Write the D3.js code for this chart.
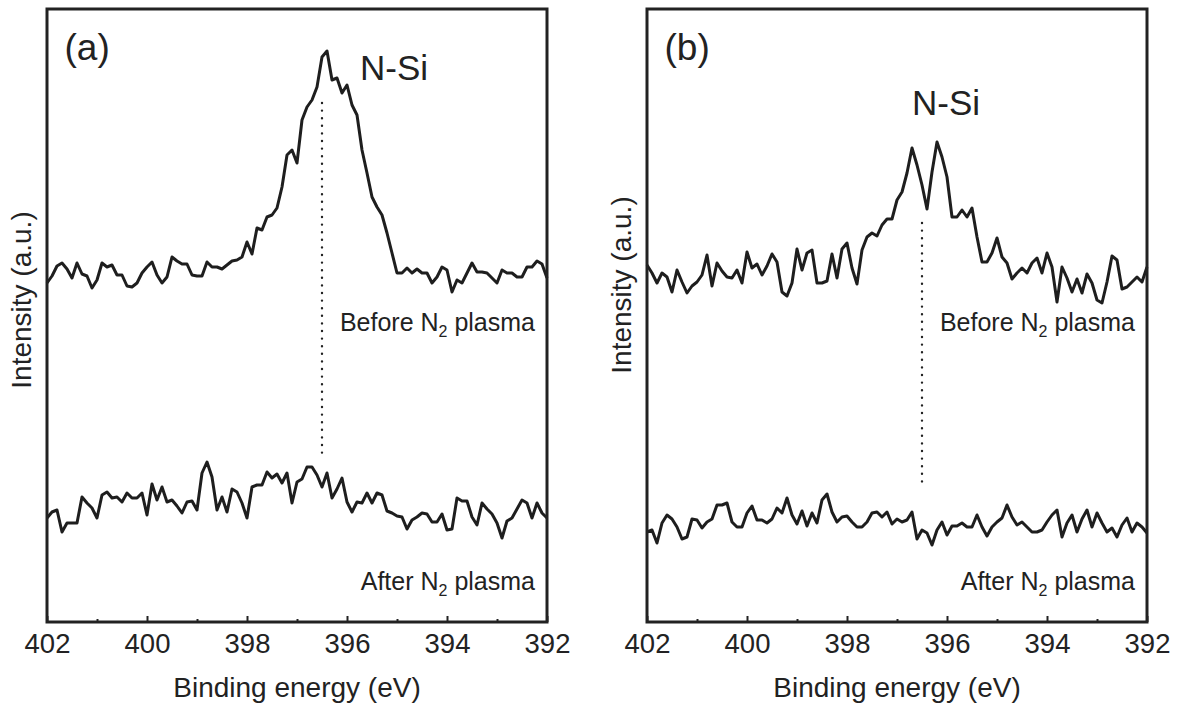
<!DOCTYPE html>
<html>
  <head>
    <meta charset="utf-8" />
    <title>N 1s before / after N2 plasma</title>
    <script src="https://d3js.org/d3.v7.min.js"></script>
    <style>
      body { margin: 0; background: #fff; }
      text { font-family: "Liberation Sans", Arial, sans-serif; fill: #222; }
    </style>
  </head>
  <body>
    <script>
      // binding energy grid (eV), 0.1 eV step from 402 to 392
      let energy = d3.range(0, 101).map((i) => +(402 - i * 0.1).toFixed(1));
      let xTicks = [402, 400, 398, 396, 394, 392];
      let xMinorTicks = [401, 399, 397, 395, 393];

      // intensities (a.u.)
      let aBefore = [
        339, 346, 356, 359, 353, 344, 359, 348, 346, 334,
        342, 359, 355, 357, 347, 347, 336, 335, 339, 349,
        355, 360, 347, 339, 345, 365, 361, 358, 358, 347,
        346, 346, 360, 355, 355, 353, 357, 361, 362, 365,
        380, 368, 394, 392, 405, 407, 414, 435, 467, 472,
        459, 502, 515, 522, 535, 565, 571, 542, 544, 529,
        537, 517, 507, 472, 449, 425, 415, 407, 389, 369,
        349, 349, 354, 349, 353, 349, 349, 339, 345, 355,
        352, 330, 342, 339, 349, 359, 350, 350, 349, 344,
        339, 352, 349, 349, 345, 345, 355, 355, 361, 358,
        344,
      ];
      let aAfter = [
        104, 110, 112, 90, 99, 99, 99, 125, 119, 114,
        104, 127, 130, 124, 125, 120, 129, 124, 124, 129,
        107, 138, 122, 135, 120, 122, 116, 109, 120, 121,
        112, 149, 160, 145, 112, 125, 110, 133, 130, 119,
        104, 135, 137, 137, 150, 144, 148, 139, 149, 119,
        140, 143, 155, 155, 147, 135, 149, 124, 133, 144,
        120, 110, 120, 119, 129, 119, 129, 127, 111, 109,
        106, 105, 93, 102, 105, 109, 108, 100, 100, 108,
        92, 93, 124, 121, 121, 105, 97, 119, 113, 108,
        99, 84, 101, 104, 113, 122, 119, 104, 119, 109,
        104,
      ];
      let bBefore = [
        357, 349, 339, 349, 345, 330, 352, 340, 329, 336,
        340, 347, 367, 336, 359, 351, 345, 344, 352, 339,
        370, 354, 358, 347, 356, 368, 360, 330, 326, 339,
        373, 352, 369, 372, 339, 339, 341, 368, 344, 373,
        379, 354, 338, 372, 385, 389, 386, 397, 403, 403,
        422, 430, 449, 474, 457, 437, 413, 450, 480, 465,
        445, 405, 405, 412, 405, 414, 385, 360, 360, 369,
        384, 365, 359, 343, 349, 354, 349, 359, 364, 349,
        369, 355, 320, 355, 344, 330, 343, 329, 348, 339,
        322, 319, 340, 366, 362, 333, 335, 340, 345, 340,
        355,
      ];
      let bAfter = [
        90, 92, 79, 99, 107, 103, 95, 83, 85, 103,
        102, 94, 100, 103, 117, 117, 119, 100, 95, 95,
        109, 116, 102, 102, 99, 103, 114, 109, 124, 107,
        98, 111, 96, 109, 99, 122, 128, 110, 100, 105,
        106, 100, 95, 95, 100, 109, 110, 105, 110, 98,
        103, 100, 102, 110, 83, 92, 89, 77, 92, 100,
        87, 96, 96, 99, 95, 95, 107, 95, 86, 95,
        100, 104, 117, 105, 97, 100, 95, 90, 90, 92,
        100, 107, 112, 85, 99, 107, 90, 103, 112, 95,
        109, 99, 90, 94, 85, 97, 104, 90, 99, 95,
        89,
      ];

      // N-Si position and the dotted guide (intensity from / to)
      let peakEnergy = 396.5;
      let aGuide = [519, 169];
      let bGuide = [399, 139];
      let aNSiAt = [395.74, 542];
      let bNSiAt = [396.7, 507];

      let width = 1180;
      let height = 705;
      let svg = d3
        .select("body")
        .append("svg")
        .attr("width", width)
        .attr("height", height);

      let panels = [
        { label: "(a)", left: 47, before: aBefore, after: aAfter, guide: aGuide, nsi: aNSiAt, yTitle: 300 },
        { label: "(b)", left: 647, before: bBefore, after: bAfter, guide: bGuide, nsi: bNSiAt, yTitle: 285 },
      ];
      let plotW = 500;
      let plotTop = 9;
      let plotBottom = 622;

      panels.forEach((p) => {
        let x = d3.scaleLinear().domain([402, 392]).range([p.left, p.left + plotW]);
        let y = d3.scaleLinear().domain([0, 613]).range([plotBottom, plotTop]);
        let g = svg.append("g");

        // spectra
        let line = d3
          .line()
          .x((d, i) => x(energy[i]))
          .y((d) => y(d));
        [p.before, p.after].forEach((s) => {
          g.append("path")
            .datum(s)
            .attr("d", line)
            .attr("fill", "none")
            .attr("stroke", "#1e1e1e")
            .attr("stroke-width", 3)
            .attr("stroke-linejoin", "round");
        });

        // dotted guide at the N-Si position
        g.append("line")
          .attr("x1", x(peakEnergy))
          .attr("x2", x(peakEnergy))
          .attr("y1", y(p.guide[0]))
          .attr("y2", y(p.guide[1]))
          .attr("stroke", "#222")
          .attr("stroke-width", 2.4)
          .attr("stroke-linecap", "round")
          .attr("stroke-dasharray", "0,7.6");

        // bottom axis, inward ticks
        let major = d3
          .axisBottom(x)
          .tickValues(xTicks)
          .tickSize(-6)
          .tickSizeOuter(0)
          .tickPadding(11)
          .tickFormat(d3.format("d"));
        let minor = d3.axisBottom(x).tickValues(xMinorTicks).tickSize(-3).tickSizeOuter(0).tickFormat("");
        let ax = g.append("g").attr("transform", `translate(0,${plotBottom})`).call(major);
        let axm = g.append("g").attr("transform", `translate(0,${plotBottom})`).call(minor);
        [ax, axm].forEach((a) => {
          a.select(".domain").remove();
          a.selectAll("line").attr("stroke", "#222").attr("stroke-width", 2);
        });
        ax.selectAll("text")
          .attr("font-size", 27.5)
          .attr("fill", "#222")
          .style("font-family", '"Liberation Sans", Arial, sans-serif');

        // frame
        g.append("rect")
          .attr("x", p.left)
          .attr("y", plotTop)
          .attr("width", plotW)
          .attr("height", plotBottom - plotTop)
          .attr("fill", "none")
          .attr("stroke", "#222")
          .attr("stroke-width", 3);

        // labels
        g.append("text").attr("x", p.left + 17.5).attr("y", 60).attr("font-size", 37).text(p.label);
        g.append("text").attr("x", x(p.nsi[0])).attr("y", y(p.nsi[1])).attr("font-size", 35).text("N-Si");

        [["Before", 331], ["After", 590]].forEach(([word, yy]) => {
          let t = g.append("text")
            .attr("x", p.left + plotW - 12)
            .attr("y", yy)
            .attr("text-anchor", "end")
            .attr("font-size", 25);
          t.append("tspan").text(word + " N");
          t.append("tspan").attr("font-size", 16).attr("dy", 6).text("2");
          t.append("tspan").attr("dy", -6).text(" plasma");
        });

        g.append("text")
          .attr("x", p.left + plotW / 2)
          .attr("y", 697)
          .attr("text-anchor", "middle")
          .attr("font-size", 28)
          .text("Binding energy (eV)");

        g.append("text")
          .attr("transform", `translate(${p.left - 16},${p.yTitle}) rotate(-90)`)
          .attr("text-anchor", "middle")
          .attr("font-size", 28)
          .text("Intensity (a.u.)");
      });
    </script>
  </body>
</html>
